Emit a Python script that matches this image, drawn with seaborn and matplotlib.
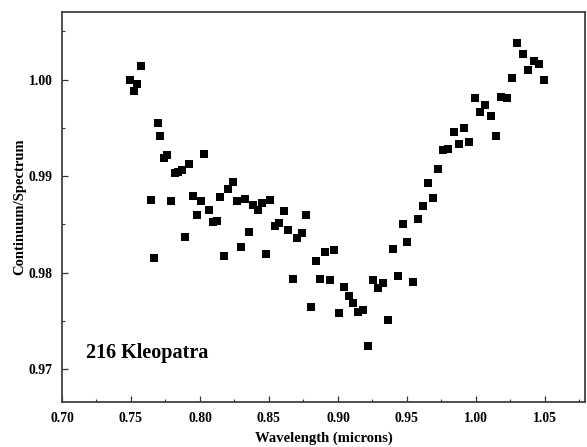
import matplotlib
matplotlib.use("Agg")
import matplotlib.pyplot as plt
from matplotlib.ticker import MultipleLocator, FormatStrFormatter
import seaborn as sns
import pandas as pd

# Continuum-removed reflectance of asteroid 216 Kleopatra
wavelength = [
    0.7495, 0.7522, 0.7546, 0.7570, 0.7645, 0.7669, 0.7693, 0.7713, 0.7737,
    0.7761, 0.7790, 0.7817, 0.7843, 0.7870, 0.7894, 0.7923, 0.7949, 0.7976,
    0.8005, 0.8031, 0.8063, 0.8092, 0.8121, 0.8147, 0.8176, 0.8205, 0.8237,
    0.8266, 0.8295, 0.8326, 0.8355, 0.8384, 0.8418, 0.8449, 0.8480, 0.8509,
    0.8543, 0.8575, 0.8609, 0.8640, 0.8674, 0.8705, 0.8739, 0.8770, 0.8804,
    0.8838, 0.8868, 0.8906, 0.8940, 0.8973, 0.9007, 0.9041, 0.9077, 0.9111,
    0.9145, 0.9181, 0.9215, 0.9251, 0.9288, 0.9324, 0.9360, 0.9396, 0.9433,
    0.9469, 0.9502, 0.9541, 0.9578, 0.9614, 0.9650, 0.9688, 0.9725, 0.9761,
    0.9799, 0.9838, 0.9877, 0.9913, 0.9951, 0.9990, 1.0029, 1.0067, 1.0106,
    1.0145, 1.0183, 1.0222, 1.0261, 1.0299, 1.0338, 1.0379, 1.0418, 1.0457,
    1.0495,
]
ratio = [
    1.0000, 0.9988, 0.9995, 1.0014, 0.98756, 0.98151, 0.99546, 0.99420, 0.99189,
    0.99216, 0.98745, 0.99034, 0.99045, 0.99059, 0.98374, 0.99127, 0.98794, 0.98595,
    0.98739, 0.99227, 0.98646, 0.98529, 0.98533, 0.98784, 0.98172, 0.98871, 0.98941,
    0.98745, 0.98265, 0.98766, 0.98419, 0.98701, 0.98646, 0.98725, 0.98196, 0.98749,
    0.98488, 0.98519, 0.98642, 0.98443, 0.97931, 0.98361, 0.98412, 0.98601, 0.97643,
    0.98117, 0.97938, 0.98216, 0.97924, 0.98230, 0.97581, 0.97849, 0.97753, 0.97688,
    0.97588, 0.97608, 0.97240, 0.97920, 0.97845, 0.97897, 0.97509, 0.98247, 0.97969,
    0.98505, 0.98316, 0.97900, 0.98557, 0.98687, 0.98925, 0.98777, 0.99072, 0.99275,
    0.99278, 0.99461, 0.99337, 0.99495, 0.99354, 0.99814, 0.99660, 0.99739, 0.99625,
    0.99420, 0.99821, 0.99811, 1.00017, 1.00381, 1.00261, 1.00103, 1.00196, 1.00158,
    0.99997,
]

df = pd.DataFrame({"wavelength": wavelength, "ratio": ratio})

sns.set_style("white")
plt.rcParams["font.family"] = ["Liberation Serif", "DejaVu Serif"]
plt.rcParams["font.weight"] = "bold"
plt.rcParams["text.color"] = "black"
plt.rcParams["axes.labelcolor"] = "black"
plt.rcParams["xtick.color"] = "black"
plt.rcParams["ytick.color"] = "black"

fig = plt.figure(figsize=(5.87, 4.47), dpi=100)
ax = fig.add_axes([0.1056, 0.1007, 0.8910, 0.8725])

sns.scatterplot(data=df, x="wavelength", y="ratio", ax=ax, marker="s",
                color="black", s=29, linewidth=0, legend=False)

ax.set_xlim(0.70, 1.079)
ax.set_ylim(0.9666, 1.0070)

ax.xaxis.set_major_locator(MultipleLocator(0.05))
ax.xaxis.set_minor_locator(MultipleLocator(0.025))
ax.yaxis.set_major_locator(MultipleLocator(0.01))
ax.yaxis.set_minor_locator(MultipleLocator(0.005))
ax.xaxis.set_major_formatter(FormatStrFormatter("%.2f"))
ax.yaxis.set_major_formatter(FormatStrFormatter("%.2f"))

ax.tick_params(axis="both", which="both", direction="in", color="#333333",
               labelcolor="black", bottom=True, left=True, top=False, right=False)
ax.tick_params(axis="both", which="major", length=4.5, width=0.9, labelsize=9.8)
ax.tick_params(axis="both", which="minor", length=2.5, width=0.8)
ax.tick_params(axis="x", which="major", pad=7)
ax.tick_params(axis="y", which="major", pad=6.5)
for lab in ax.get_xticklabels() + ax.get_yticklabels():
    lab.set_fontweight("bold")

for sp in ax.spines.values():
    sp.set_visible(True)
    sp.set_color("#404040")
    sp.set_linewidth(1.3)

ax.set_xlabel("Wavelength (microns)", fontsize=10.5, fontweight="bold",
              color="black", labelpad=5)
ax.set_ylabel("Continuum/Spectrum", fontsize=10.5, fontweight="bold",
              color="black", labelpad=2)

ax.text(0.7174, 0.9712, "216 Kleopatra", fontsize=14.5, fontweight="bold",
        color="black", ha="left", va="baseline")

fig.savefig("out.png", dpi=100)
